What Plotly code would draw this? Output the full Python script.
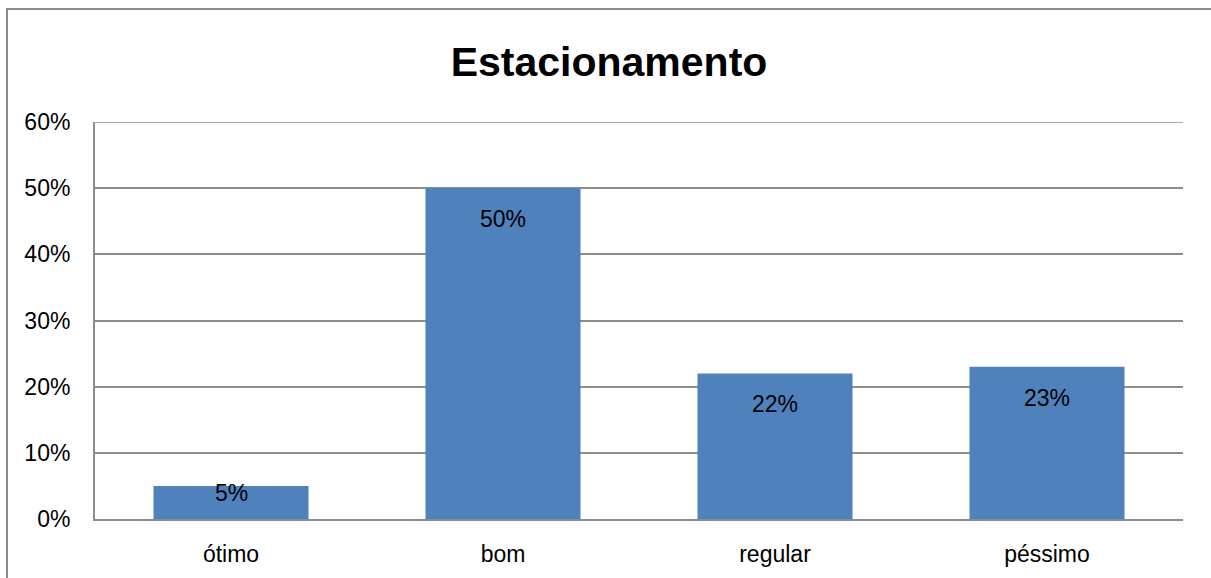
import plotly.graph_objects as go

categories = ["ótimo", "bom", "regular", "péssimo"]
values = [0.05, 0.50, 0.22, 0.23]
labels = ["5%", "50%", "22%", "23%"]
y_ticks = [0, 0.1, 0.2, 0.3, 0.4, 0.5, 0.6]
y_tick_text = ["0%", "10%", "20%", "30%", "40%", "50%", "60%"]

FONT = "Liberation Sans"
BAR = "#4F81BD"
GRID = "#8C8C8C"
Y_MAX = y_ticks[-1]

fig = go.Figure()
fig.add_trace(go.Bar(x=categories, y=values, marker=dict(color=BAR, line=dict(width=0)),
                     hoverinfo="skip"))

plot_h = 578 - 122 - 59
for c, v, t in zip(categories, values, labels):
    bar_px = v / Y_MAX * plot_h
    off = -31 if bar_px > 60 else -7
    fig.add_annotation(x=c, y=v, text=t, showarrow=False, yanchor="middle",
                       yshift=off, font=dict(family=FONT, size=23, color="black"))

# top gridline (at axis maximum)
fig.add_shape(type="line", xref="paper", yref="y", x0=0, x1=1, y0=Y_MAX, y1=Y_MAX,
              line=dict(color=GRID, width=1.5), layer="below")

fig.add_shape(type="rect", xref="paper", yref="paper",
              x0=(7 - 95) / 1088, x1=1.2, y0=-0.5, y1=(519 - 9) / 397,
              line=dict(color="#8C8C8C", width=2), fillcolor="rgba(0,0,0,0)", layer="below")

fig.update_layout(
    width=1211, height=578,
    margin=dict(l=95, r=28, t=122, b=59),
    paper_bgcolor="white", plot_bgcolor="white",
    bargap=0.43,
    showlegend=False,
    title=dict(text="<b>Estacionamento</b>", x=(609 - 95) / 1088, xref="paper", xanchor="center",
               y=1 - 62 / 578, yref="container", yanchor="middle",
               font=dict(family=FONT, size=41, color="black")),
    font=dict(family=FONT, size=23, color="black"),
    xaxis=dict(showgrid=False, showline=True, linecolor=GRID, linewidth=2,
               ticks="", tickfont=dict(family=FONT, size=23, color="black"),
               ticklabelstandoff=13, automargin=False),
    yaxis=dict(range=[0, Y_MAX], tickvals=y_ticks, ticktext=y_tick_text,
               showgrid=True, gridcolor=GRID, gridwidth=1.5,
               showline=True, linecolor=GRID, linewidth=2, zeroline=False,
               ticks="", tickfont=dict(family=FONT, size=23, color="black"),
               ticklabelstandoff=18, automargin=False),
)

fig.write_html("out.html")
